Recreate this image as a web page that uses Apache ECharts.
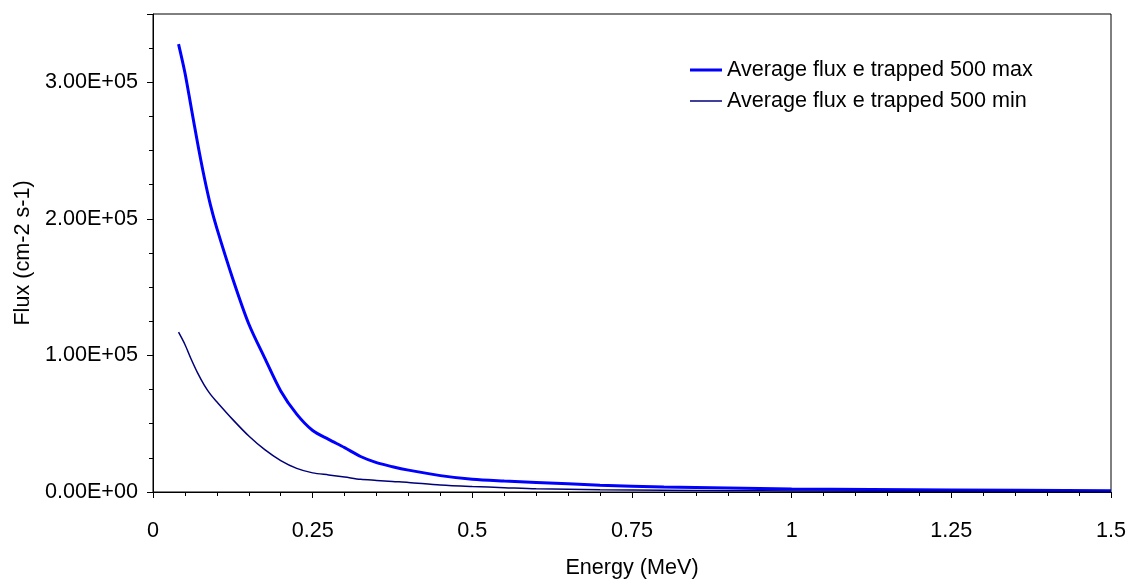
<!DOCTYPE html>
<html>
<head>
<meta charset="utf-8">
<script src="https://cdn.jsdelivr.net/npm/echarts@6/dist/echarts.min.js"></script>
<style>html,body{margin:0;padding:0;background:#fff;}#chart{width:1130px;height:580px;}</style>
</head>
<body>
<div id="chart"></div>
<script>
const energy = [0.04,0.05,0.06,0.07,0.08,0.09,0.1,0.125,0.15,0.175,0.2,0.225,0.25,0.275,0.3,0.325,0.35,0.375,0.4,0.45,0.5,0.55,0.6,0.7,0.8,0.9,1.0,1.25,1.5];
const fluxMax = [328000,307000,281000,255000,231000,210000,193000,156000,123000,98000,74000,57000,45000,38500,32500,26000,21500,18500,16000,12000,9300,8000,7000,5000,3700,2900,2200,1500,1000];
const fluxMin = [117000,108000,97000,87000,78500,71500,66000,53000,41000,31000,23000,17300,14000,12500,11000,9300,8500,7700,7000,5100,4000,3200,2400,1700,1300,1000,800,500,300];
const seriesNames = ['Average flux e trapped 500 max','Average flux e trapped 500 min'];

const pair = (xs, ys) => xs.map((x, i) => [x, ys[i]]);
const fmtE = v => {
  if (v === 0) return '0.00E+00';
  const s = v.toExponential(2).split('e');
  const exp = parseInt(s[1], 10);
  const sign = exp < 0 ? '-' : '+';
  const a = Math.abs(exp);
  return s[0] + 'E' + sign + (a < 10 ? '0' + a : a);
};
const font = 'Liberation Sans, Arial, sans-serif';
const fs = 21.6;
const chart = echarts.init(document.getElementById('chart'), null, {renderer: 'canvas'});
const legendBase = {
  orient: 'vertical', left: 690, padding: 0, itemWidth: 32, itemGap: 0, icon: 'rect',
  textStyle: {fontFamily: font, fontSize: fs, color: '#000'}
};
chart.setOption({
  animation: false,
  backgroundColor: '#fff',
  grid: {left: 153, right: 19, top: 14, bottom: 88, show: true, borderColor: '#000', borderWidth: 1,
         containLabel: false, outerBoundsMode: 'none'},
  legend: [
    Object.assign({}, legendBase, {top: 59, itemHeight: 3, data: [seriesNames[0]]}),
    Object.assign({}, legendBase, {top: 90, itemHeight: 1.5, data: [seriesNames[1]]})
  ],
  xAxis: {
    type: 'value', min: 0, max: 1.5, interval: 0.25,
    name: 'Energy (MeV)', nameLocation: 'middle', nameGap: 65,
    nameTextStyle: {fontFamily: font, fontSize: fs, color: '#000'},
    axisLine: {show: true, lineStyle: {color: '#000', width: 1}},
    axisTick: {show: true, inside: false, length: 6, lineStyle: {color: '#000'}},
    minorTick: {show: true, splitNumber: 5, length: 4, lineStyle: {color: '#000'}},
    splitLine: {show: false},
    axisLabel: {fontFamily: font, fontSize: fs, color: '#000', margin: 28}
  },
  yAxis: {
    type: 'value', min: 0, max: 350000, interval: 100000,
    name: 'Flux (cm-2 s-1)', nameLocation: 'middle', nameGap: 119,
    nameTextStyle: {fontFamily: font, fontSize: fs, color: '#000'},
    axisLine: {show: true, lineStyle: {color: '#000', width: 1}},
    axisTick: {show: true, inside: false, length: 6, lineStyle: {color: '#000'}},
    minorTick: {show: true, splitNumber: 4, length: 4, lineStyle: {color: '#000'}},
    splitLine: {show: false},
    axisLabel: {fontFamily: font, fontSize: fs, color: '#000', margin: 15, formatter: fmtE, showMaxLabel: false}
  },
  series: [
    {name: seriesNames[0], type: 'line', data: pair(energy, fluxMax), symbol: 'none', smooth: 0.3,
     lineStyle: {color: '#0000ff', width: 3}, itemStyle: {color: '#0000ff'}},
    {name: seriesNames[1], type: 'line', data: pair(energy, fluxMin), symbol: 'none', smooth: 0.3,
     lineStyle: {color: '#00007a', width: 1.5}, itemStyle: {color: '#00007a'}}
  ]
});
</script>
</body>
</html>
